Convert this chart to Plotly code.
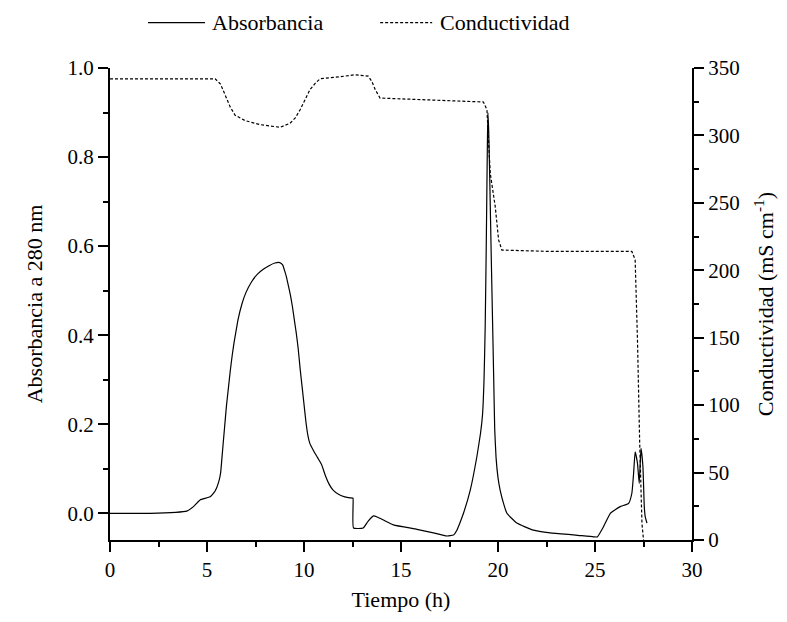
import plotly.graph_objects as go

# Absorbance at 280 nm (left axis)
abs_time = [0, 2.06, 3.96, 4.3, 4.64, 5.16, 5.42, 5.6, 5.7, 5.8, 5.9, 6.0, 6.1, 6.2, 6.3, 6.4, 6.5,
            6.6, 6.8, 7.0, 7.3, 7.6, 7.9, 8.2, 8.5, 8.75, 8.9, 9.0, 9.1, 9.2, 9.3, 9.4, 9.5, 9.6,
            9.7, 9.8, 9.9, 10.0, 10.1, 10.2, 10.3, 10.5, 10.7, 10.9, 11.1, 11.3, 11.5, 11.8, 12.1,
            12.5, 12.53, 12.55, 13.05, 13.3, 13.58, 13.8, 14.09, 14.61, 15.82, 16.67, 17.36, 17.70,
            17.88, 18.05, 18.22, 18.57, 18.91, 19.1, 19.2, 19.28, 19.34, 19.4, 19.45, 19.48, 19.52,
            19.58, 19.65, 19.72, 19.78, 19.83, 19.9, 20.0, 20.11, 20.3, 20.46, 20.97, 21.83, 22.69,
            24.0, 24.93, 25.12, 25.44, 25.79, 26.30, 26.73, 26.90, 26.99, 27.07, 27.19, 27.28,
            27.37, 27.47, 27.54, 27.59, 27.68]
abs_values = [0.0, 0.0, 0.005, 0.015, 0.03, 0.037, 0.05, 0.07, 0.09, 0.14, 0.19, 0.24, 0.28, 0.32,
              0.355, 0.385, 0.41, 0.435, 0.47, 0.495, 0.52, 0.537, 0.548, 0.556, 0.562, 0.563,
              0.558, 0.545, 0.53, 0.51, 0.49, 0.465, 0.435, 0.405, 0.37, 0.325, 0.285, 0.245, 0.205,
              0.175, 0.157, 0.14, 0.125, 0.11, 0.085, 0.065, 0.052, 0.042, 0.037, 0.034, 0.034,
              -0.033, -0.033, -0.018, -0.006, -0.009, -0.015, -0.026, -0.036, -0.044, -0.051,
              -0.049, -0.038, -0.02, 0.0, 0.052, 0.127, 0.18, 0.22, 0.30, 0.42, 0.62, 0.82, 0.899,
              0.86, 0.74, 0.58, 0.43, 0.30, 0.19, 0.125, 0.08, 0.052, 0.02, 0.0, -0.022, -0.038,
              -0.044, -0.049, -0.053, -0.053, -0.030, 0.0, 0.015, 0.022, 0.045, 0.09, 0.138, 0.112,
              0.067, 0.146, 0.105, 0.015, -0.008, -0.022]

# Conductivity (right axis, mS cm-1)
cond_time = [0, 5.42, 5.7, 5.93, 6.2, 6.45, 6.96, 7.74, 8.77, 9.28, 9.55, 9.80, 10.05, 10.31,
             10.6, 10.83, 11.86, 12.64, 13.31, 13.5, 13.67, 13.92, 19.25, 19.43, 19.60, 19.86,
             20.03, 20.20, 22.69, 26.90, 27.07, 27.19, 27.30, 27.42, 27.50]
cond_values = [342, 342, 338, 330, 321, 315, 311, 308, 306, 309, 313, 319, 327, 334, 339, 342,
               343.5, 345, 344, 340, 334, 327.7, 324.8, 319, 272, 247, 222.6, 215, 214, 214,
               207.8, 148, 74, 12.4, 0]

series_names = ["Absorbancia", "Conductividad"]
x_ticks = [0, 5, 10, 15, 20, 25, 30]
left_ticks = [0.0, 0.2, 0.4, 0.6, 0.8, 1.0]
left_labels = ["0.0", "0.2", "0.4", "0.6", "0.8", "1.0"]
right_ticks = [0, 50, 100, 150, 200, 250, 300, 350]

FONT = "Liberation Serif"
DASH = "3px,2px"

fig = go.Figure()
fig.add_trace(go.Scatter(x=abs_time, y=abs_values, mode="lines", name=series_names[0],
                         line=dict(color="black", width=1.2, shape="spline", smoothing=0.4)))
fig.add_trace(go.Scatter(x=cond_time, y=cond_values, mode="lines", name=series_names[1],
                         yaxis="y2", line=dict(color="black", width=1.2, dash=DASH)))

axis_common = dict(showline=True, linecolor="black", linewidth=2, ticks="outside", ticklen=10,
                   tickwidth=2, tickcolor="black", showgrid=False, zeroline=False,
                   tickfont=dict(family=FONT, size=21, color="black"))


def minor(d):
    return dict(ticks="outside", ticklen=5, tickwidth=2, tickcolor="black", dtick=d)


# Manual legend (paper coordinates; plot area spans ~582 x 472 px)
PW, PH = 581.7, 471.7
def px_x(p):
    return (p - 110) / PW
def px_y(p):
    return (540 - p) / PH

legend_y = px_y(23)
shapes = [
    dict(type="line", xref="paper", yref="paper", x0=px_x(148), x1=px_x(205), y0=legend_y,
         y1=legend_y, line=dict(color="black", width=1.2)),
    dict(type="line", xref="paper", yref="paper", x0=px_x(380), x1=px_x(432), y0=legend_y,
         y1=legend_y, line=dict(color="black", width=1.2, dash=DASH)),
]
annotations = [
    dict(text=series_names[0], xref="paper", yref="paper", x=px_x(210), y=legend_y,
         xanchor="left", yanchor="middle", showarrow=False, font=dict(family=FONT, size=22)),
    dict(text=series_names[1], xref="paper", yref="paper", x=px_x(438), y=legend_y,
         xanchor="left", yanchor="middle", showarrow=False, font=dict(family=FONT, size=22)),
]

fig.update_layout(
    width=787, height=622,
    margin=dict(l=110, r=95, t=68, b=82),
    paper_bgcolor="white", plot_bgcolor="white",
    font=dict(family=FONT, size=21, color="black"),
    xaxis=dict(range=[0, 30], tickvals=x_ticks, minor=minor(2.5),
               title=dict(text="Tiempo (h)", font=dict(family=FONT, size=22), standoff=10),
               **axis_common),
    yaxis=dict(range=[-0.06, 1.0], tickvals=left_ticks, ticktext=left_labels, minor=minor(0.1),
               title=dict(text="Absorbancia a 280 nm", font=dict(family=FONT, size=22), standoff=19),
               **axis_common),
    yaxis2=dict(range=[0, 350], tickvals=right_ticks, overlaying="y", side="right", minor=minor(25),
                title=dict(text="Conductividad (mS cm<sup>-1</sup>)", font=dict(family=FONT, size=22),
                           standoff=19),
                **axis_common),
    shapes=shapes,
    annotations=annotations,
    showlegend=False,
)

fig.write_html("out.html")
